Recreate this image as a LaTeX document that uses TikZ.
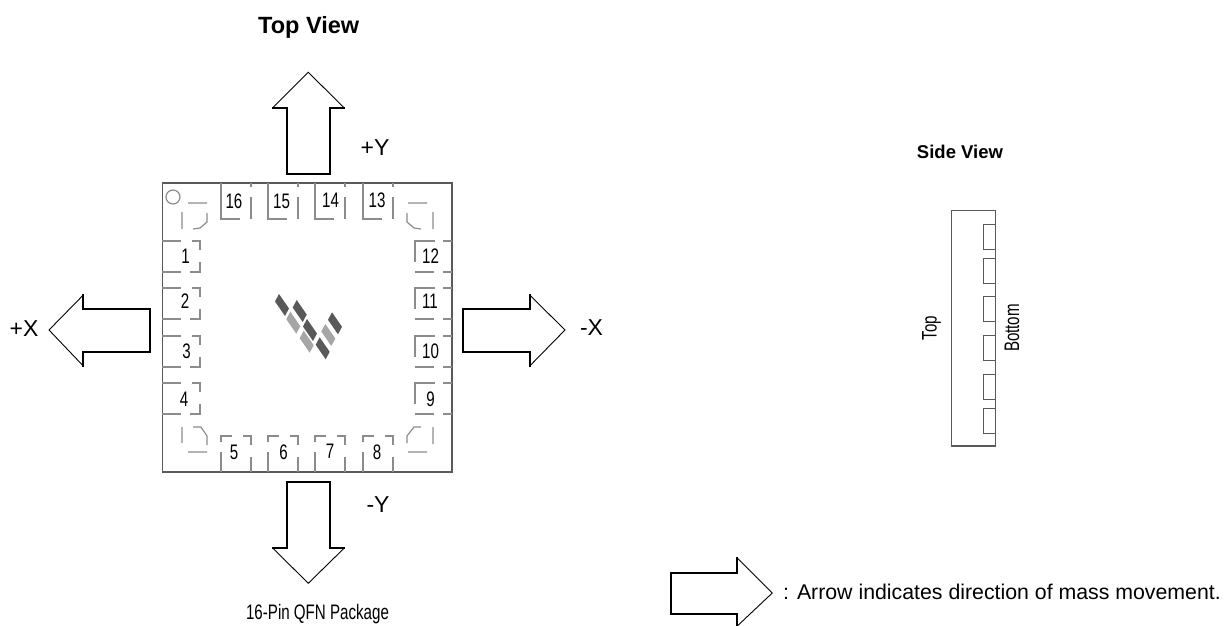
\documentclass[tikz,border=0pt]{standalone}
\usepackage{fontspec}
\setmainfont{Liberation Sans}
\newfontfamily\narrowfont[FakeStretch=0.72]{Liberation Sans}
\tikzset{
  pkgline/.style={draw=black!65,line width=1.3pt},
  padline/.style={draw=black!45,line width=1.2pt},
  shaft/.style={draw=black,line width=2pt,line cap=rect},
  tip/.style={draw=black,line width=0.9pt},
  pin/.style={inner sep=0pt,font=\narrowfont\fontsize{21}{21}\selectfont},
  axis/.style={inner sep=0pt,font=\fontsize{23}{23}\selectfont},
  heading/.style={inner sep=0pt,font=\bfseries\fontsize{#1}{#1}\selectfont}
}
\begin{document}
\begin{tikzpicture}[x=1pt,y=-1pt]
    \useasboundingbox (0,0) rectangle (1224,626);
    \draw[pkgline](162.5,183) rectangle (452,472);
    \draw[padline](173,197)circle(7);
    % pads
    \foreach \x in {221,268,315,363}
      \draw[padline,shift={(\x,183)}](0,0)--(0,36)--(19,36) (30,0)--(30,4) (30,14)--(30,36);
    \foreach \x in {221,268,315,363}
      \draw[padline,shift={(\x,472)}](0,0)--(0,-20) (0,-30)--(0,-36)--(11,-36) (22,-36)--(30,-36)--(30,-27) (30,-15)--(30,0);
    \foreach \y in {241,288,336,383}
      \draw[padline,shift={(162,\y)}](0,0)--(19,0) (30,0)--(38,0)--(38,9) (38,21)--(38,31)--(28,31) (19,31)--(0,31);
    \foreach \y in {241,288,336,383}
      \draw[padline,shift={(452,\y)}](-37,21)--(-37,0)--(-17,0) (-9,0)--(0,0) (-37,31)--(-18,31) (-9,31)--(0,31);
    \draw[padline](188,203)--(207,203) (182,212)--(182,229) (207,213)--(207,222)--(200,228)--(193,229);
    \draw[padline](408,203)--(427,203) (433,212)--(433,229) (407,213)--(407,222)--(414,228)--(421,229);
    \draw[padline](182,443)--(182,427) (193,427)--(201,427)--(207,436)--(207,445) (188,452)--(207,452);
    \draw[padline](433,444)--(433,427) (421,427)--(414,427)--(407,436)--(407,443) (408,452)--(427,452);
    % pin numbers
    \foreach \n/\x/\y in {1/185.5/256,2/185/301,3/186.5/351,4/184/399,5/234/452,6/283.5/452,7/330/451,8/377/452,
      9/430.5/399,10/430.5/351.5,11/430/301.5,12/430.5/256.5,13/377/200.5,14/330.5/200.5,15/281.5/201,16/234/201}
      \node[pin](pin\n) at (\x,\y){\n};
    % logo
    \foreach \x/\y in {282/305,299.7/311,310/330,322.7/348.3,335/323.3}
      \fill[black!65,shift={(\x,\y)}](-3,-11)--(7,3.5)--(3,11)--(-7,-3.5)--cycle;
    \foreach \x/\y in {293.3/322.7,306.7/341.7,328.3/335}
      \fill[black!35,shift={(\x,\y)}](-3,-11)--(7,3.5)--(3,11)--(-7,-3.5)--cycle;
    % arrows
    \draw[shaft](272.7,107.7)--(286.7,107.7)--(286.7,173.7)--(330,173.7)--(330,107.7)--(344,107.7);
    \draw[tip](272.7,107.7)--(308.3,72.3)--(344,107.7);
    \draw[shaft](272.7,548)--(286.7,548)--(286.7,482.3)--(330,482.3)--(330,548)--(344.3,548);
    \draw[tip](272.7,548)--(308.3,583.3)--(344.3,548);
    \draw[shaft](83.3,295)--(83.3,309)--(150,309)--(150,351.7)--(83.3,351.7)--(83.3,366);
    \draw[tip](83.3,295)--(49,330)--(83.3,366);
    \draw[shaft](529.7,295)--(529.7,309)--(463.3,309)--(463.3,351.7)--(529.7,351.7)--(529.7,366);
    \draw[tip](529.7,295)--(565,330)--(529.7,366);
    \draw[shaft](737.3,558)--(737.3,573.3)--(671,573.3)--(671,614.3)--(737.3,614.3)--(737.3,626);
    \draw[tip](737.3,558)--(772.3,593)--(737.3,626);
    % side view
    \draw[pkgline](951.7,210.7) rectangle (995.7,446);
    \foreach \y in {224.7,258.3,296.3,335.7,374.3,408.3}
      \draw[pkgline,shift={(983.3,\y)}](12.4,0)--(0,0)--(0,25)--(12.4,25);
    % labels
    \node[heading=23.5](topview) at (308.7,27){Top View};
    \node[heading=18.5](sideview) at (960,152){Side View};
    \node[axis](plusy) at (375,148){+Y};
    \node[axis](minusy) at (378,505){-Y};
    \node[axis](plusx) at (24,329){+X};
    \node[axis](minusx) at (591.5,328){-X};
    \node[pin,rotate=90](top) at (931.5,328){Top};
    \node[pin,rotate=90](bottom) at (1012,328){Bottom};
    \node[pin](pkgname) at (317.5,614){16-Pin QFN Package};
    \node[inner sep=0pt,anchor=west,font=\fontsize{21.3}{21.3}\selectfont](legend) at (783,592){: Arrow indicates direction of mass movement.};
\end{tikzpicture}
\end{document}
